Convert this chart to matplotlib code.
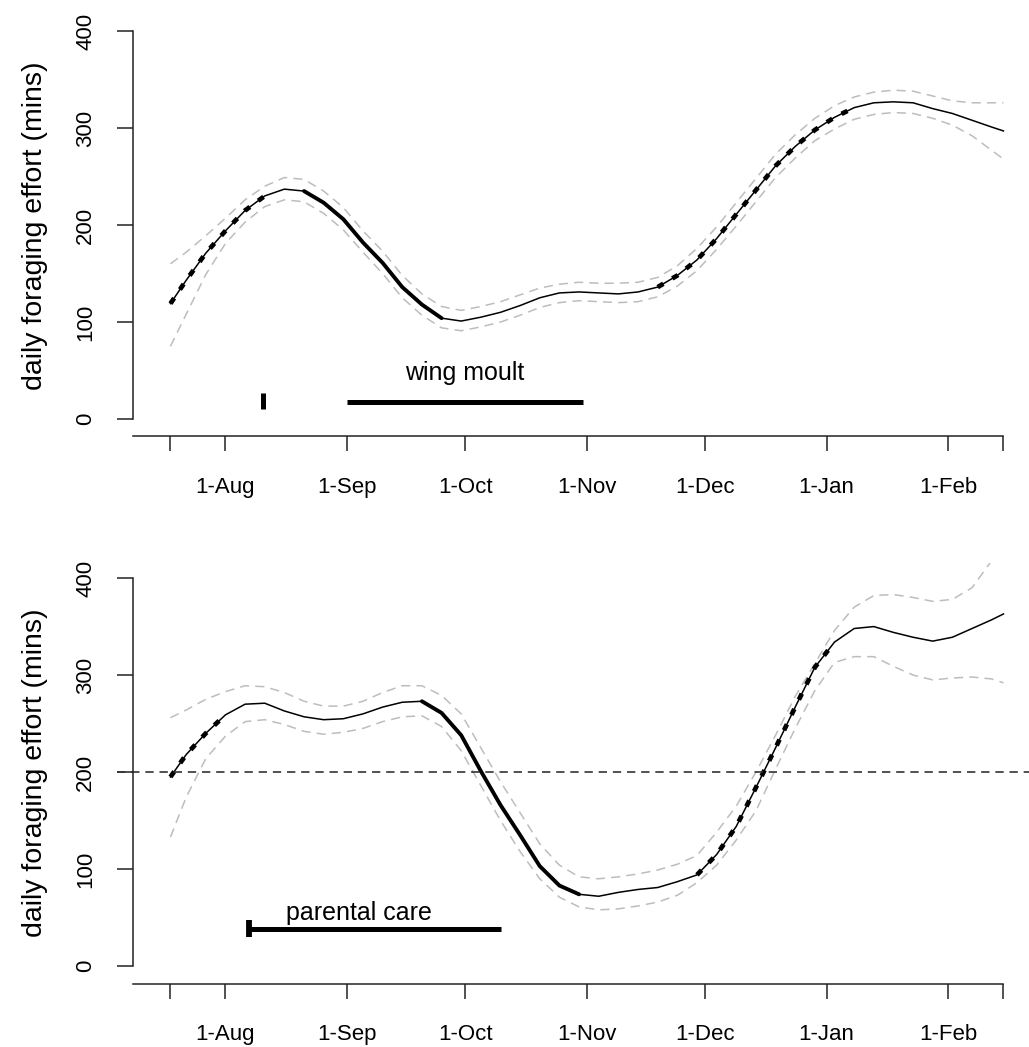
import numpy as np
import matplotlib
matplotlib.use("Agg")
import matplotlib.pyplot as plt

plt.rcParams['font.family'] = ['Liberation Sans', 'DejaVu Sans']

# days relative to 1 August (18 Jul .. 15 Feb)
days = [-14, -10, -5, 0, 5, 10, 15, 20, 25, 30, 35, 40, 45, 50, 55, 60, 65, 70,
        75, 80, 85, 90, 95, 100, 105, 110, 115, 120, 125, 130, 135, 140, 145,
        150, 155, 160, 165, 170, 175, 180, 185, 190, 195, 198]

# upper panel: smoothed daily foraging effort with confidence band
top_fit = [119, 143, 171, 194, 215, 230, 237, 235, 223, 206, 182, 161, 136, 118,
           104, 101, 105, 110, 117, 125, 130, 131, 130, 129, 131, 136, 148, 164,
           186, 211, 236, 261, 281, 298, 311, 321, 326, 327, 326, 320, 315, 308,
           301, 297]
top_upper = [160, 172, 189, 207, 226, 240, 249, 247, 235, 218, 194, 173, 148, 129,
             116, 112, 116, 121, 128, 135, 139, 141, 140, 140, 141, 146, 158, 176,
             198, 223, 248, 273, 293, 310, 323, 332, 337, 339, 338, 333, 328, 326,
             326, 326]
top_lower = [75, 108, 149, 181, 203, 219, 226, 224, 212, 195, 172, 150, 125, 107,
             94, 91, 95, 100, 107, 115, 120, 122, 121, 120, 121, 126, 137, 153,
             175, 199, 224, 249, 269, 287, 299, 309, 314, 316, 315, 310, 303, 292,
             277, 268]
top_increase = [(-14, 10), (110, 160)]
top_decrease = [(20, 55)]

# lower panel
bot_fit = [195, 218, 240, 259, 270, 271, 263, 257, 254, 255, 260, 267, 272, 273,
           261, 238, 201, 166, 135, 103, 83, 74, 72, 76, 79, 81, 87, 94, 115, 144,
           184, 225, 267, 308, 334, 348, 350, 344, 339, 335, 339, 348, 357, 363]
bot_upper = [256, 264, 275, 283, 289, 288, 282, 273, 268, 268, 273, 282, 289, 289,
             279, 260, 225, 190, 158, 126, 104, 92, 90, 92, 95, 99, 105, 114, 138,
             165, 200, 238, 278, 312, 346, 370, 382, 383, 380, 376, 378, 390, 418,
             436]
bot_lower = [133, 174, 214, 237, 252, 254, 249, 242, 239, 241, 245, 252, 257, 258,
             247, 222, 186, 150, 118, 90, 71, 61, 58, 59, 62, 66, 73, 86, 104, 130,
             160, 203, 245, 284, 313, 319, 319, 309, 300, 295, 297, 298, 296, 292]
bot_increase = [(-14, 0), (120, 155)]
bot_decrease = [(50, 90)]

# life-history periods (days from 1 Aug)
moult_start, moult_end, moult_y = 31, 91, 18
moult_mark_day, moult_mark_lo, moult_mark_hi = 9.5, 10, 26.5
care_start, care_end, care_y = 6, 70, 38
care_cap_lo, care_cap_hi = 30, 47
threshold = 200

tick_days = [-14, 0, 31, 61, 92, 122, 153, 184, 198]
tick_labels = ['', '1-Aug', '1-Sep', '1-Oct', '1-Nov', '1-Dec', '1-Jan', '1-Feb', '']
y_ticks = [0, 100, 200, 300, 400]

AX_COL = '#222222'
CI_COL = '#bdbdbd'

fig = plt.figure(figsize=(10.29, 10.47), dpi=100)
ax_top = fig.add_axes([0.1137, 0.5831, 0.8863, 0.4021])
ax_bot = fig.add_axes([0.1137, 0.0606, 0.8863, 0.4021])


def draw_panel(ax, fit, upper, lower, rises, falls):
    d = np.array(days)
    f = np.array(fit)
    ax.plot(d, upper, color=CI_COL, lw=1.1, linestyle=(0, (6, 4)))
    ax.plot(d, lower, color=CI_COL, lw=1.1, linestyle=(0, (6, 4)))
    ax.plot(d, f, color='black', lw=1.1)
    # significant increases: heavy dashes, decreases: heavy solid
    for a, b in rises:
        m = (d >= a) & (d <= b)
        ax.plot(d[m], f[m], color='black', lw=3.4, linestyle=(0, (1.4, 2.2)),
                dash_capstyle='butt')
    for a, b in falls:
        m = (d >= a) & (d <= b)
        ax.plot(d[m], f[m], color='black', lw=2.8, solid_capstyle='round')

    ax.set_xlim(-27.6, 204.5)
    ax.set_ylim(-18, 416)
    for s in ['top', 'right']:
        ax.spines[s].set_visible(False)
    ax.spines['left'].set_position(('data', -23.5))
    ax.spines['left'].set_bounds(0, 400)
    ax.spines['bottom'].set_bounds(-23.5, 198)
    for s in ['left', 'bottom']:
        ax.spines[s].set_color(AX_COL)
        ax.spines[s].set_linewidth(1.1)

    ax.set_yticks(y_ticks)
    ax.set_yticklabels([str(v) for v in y_ticks], rotation=90, va='center')
    ax.set_xticks(tick_days)
    ax.set_xticklabels(tick_labels)
    ax.tick_params(axis='y', length=11.5, width=1.1, color=AX_COL, pad=15,
                   labelsize=16)
    ax.tick_params(axis='x', length=11, width=1.1, color=AX_COL, pad=18,
                   labelsize=16)
    ax.set_ylabel('daily foraging effort (mins)', fontsize=20.5, labelpad=20)
    ax.patch.set_alpha(0)


draw_panel(ax_top, top_fit, top_upper, top_lower, top_increase, top_decrease)
draw_panel(ax_bot, bot_fit, bot_upper, bot_lower, bot_increase, bot_decrease)

# wing moult period
ax_top.plot([moult_start, moult_end], [moult_y, moult_y], color='black', lw=3.6,
            solid_capstyle='butt')
ax_top.plot([moult_mark_day, moult_mark_day], [moult_mark_lo, moult_mark_hi],
            color='black', lw=3.6, solid_capstyle='butt')
ax_top.text((moult_start + moult_end) / 2, 40, 'wing moult', fontsize=18,
            ha='center', va='baseline')

# parental care period and threshold line
ax_bot.axhline(threshold, color='#333333', lw=1.2, linestyle=(0, (5, 3.5)))
ax_bot.plot([care_start, care_end], [care_y, care_y], color='black', lw=3.6,
            solid_capstyle='butt')
ax_bot.plot([care_start, care_start], [care_cap_lo, care_cap_hi], color='black',
            lw=4.2, solid_capstyle='butt')
ax_bot.text(34, 47, 'parental care', fontsize=18, ha='center', va='baseline')

fig.savefig('out.png', dpi=100)
